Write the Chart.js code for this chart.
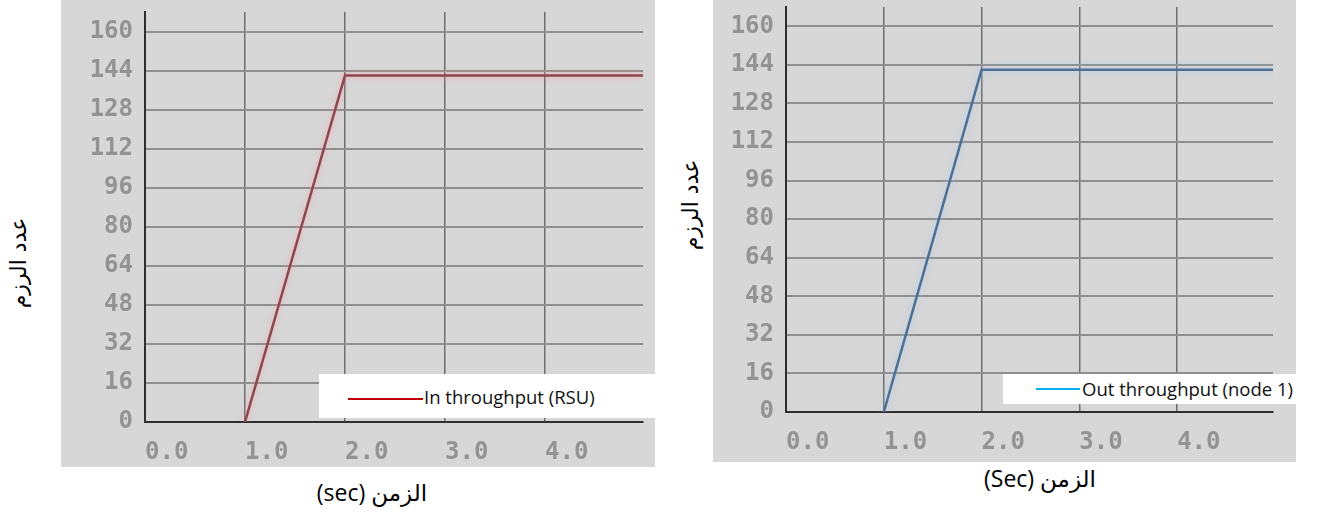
<!DOCTYPE html>
<html>
<head>
<meta charset="utf-8">
<script src="https://cdn.jsdelivr.net/npm/chart.js@4.4.0/dist/chart.umd.min.js"></script>
<style>
    body { margin: 0; width: 1321px; height: 515px; background: #fff; position: relative; overflow: hidden; }
    .panel { position: absolute; background: #d7d7d7; }
    .legend { position: absolute; background: #fff; font-family: "Open Sans", sans-serif; font-size: 18.5px; line-height: 25px; color: #111; white-space: nowrap; }
    .legend .swatch { position: absolute; height: 0; }
    .legend .label { position: absolute; }
    .xtitle { position: absolute; font-family: "Open Sans", "DejaVu Sans", sans-serif; font-size: 23px; color: #000; white-space: nowrap; transform: translateX(-50%); }
    .ytitle { position: absolute; font-family: "DejaVu Sans", sans-serif; font-size: 22px; color: #000; white-space: nowrap; transform: translate(-50%, -50%) rotate(-90deg); }
</style>
</head>
<body>

<div class="panel" style="left:61px; top:0; width:594px; height:467px;"><canvas id="inChart"></canvas></div>
<div class="panel" style="left:713px; top:0; width:583px; height:462px;"><canvas id="outChart"></canvas></div>

<div class="legend" style="left:319px; top:374px; width:336px; height:44px;">
    <div class="swatch" style="left:29px; top:24px; width:75px; border-top:2px solid #c00000;"></div>
    <div class="label" style="left:105px; top:10px;">In throughput (RSU)</div>
</div>
<div class="legend" style="left:1003px; top:374px; width:293px; height:30px;">
    <div class="swatch" style="left:33px; top:14px; width:44px; border-top:2px solid #00b0f0;"></div>
    <div class="label" style="left:79px; top:2px;">Out throughput (node 1)</div>
</div>

<div class="ytitle" style="left:18px; top:263px;" dir="rtl">عدد الرزم</div>
<div class="ytitle" style="left:690px; top:205px;" dir="rtl">عدد الرزم</div>
<div class="xtitle" style="left:372px; top:476px;" dir="rtl">الزمن (sec)</div>
<div class="xtitle" style="left:1040px; top:462px;" dir="rtl">الزمن (Sec)</div>

<script>
// values
const timeSec = [1.0, 2.0, 5.0];
const inThroughputRsu = [0, 142, 142];
const outThroughputNode1 = [0, 142, 142];

const xTickValues = [0, 1, 2, 3, 4];
const yTickValues = [0, 16, 32, 48, 64, 80, 96, 112, 128, 144, 160];

// soft glow round the plotted line, like the blurred screenshot
const haloPlugin = {
    id: 'halo',
    beforeDatasetDraw(chart, args, opts) {
        chart.ctx.save();
        chart.ctx.shadowColor = opts.color;
        chart.ctx.shadowBlur = opts.blur;
    },
    afterDatasetDraw(chart) {
        chart.ctx.restore();
    }
};

function buildChart(canvasId, values, cfg) {
    const points = timeSec.map((t, i) => ({ x: t, y: values[i] }));
    const tickFont = { family: 'DejaVu Sans Mono', size: 24, weight: 'bold' };

    return new Chart(document.getElementById(canvasId), {
        type: 'line',
        data: {
            datasets: [{
                data: points,
                borderColor: cfg.lineColor,
                borderWidth: 2.5,
                pointRadius: 0,
                tension: 0,
                fill: false
            }]
        },
        options: {
            responsive: true,
            maintainAspectRatio: false,
            animation: false,
            events: [],
            layout: { padding: { top: cfg.padTop, right: cfg.padRight, left: 0, bottom: 0 } },
            plugins: {
                legend: { display: false },
                tooltip: { enabled: false },
                halo: { color: cfg.haloColor, blur: cfg.haloBlur }
            },
            scales: {
                x: {
                    type: 'linear',
                    min: 0,
                    max: 4.98,
                    afterBuildTicks: s => { s.ticks = xTickValues.map(v => ({ value: v })); },
                    afterFit: s => {
                        s.height = cfg.xAxisHeight;
                        s.paddingLeft = 0;
                        s.paddingRight = 0;
                    },
                    ticks: {
                        align: 'start',
                        padding: 16,
                        color: '#939393',
                        font: tickFont,
                        maxRotation: 0,
                        callback: v => Number(v).toFixed(1)
                    },
                    grid: { color: '#6e6e6e', lineWidth: 1.5, drawTicks: false },
                    border: { color: '#2e2e2e', width: 2 }
                },
                y: {
                    type: 'linear',
                    min: 0,
                    max: 168,
                    afterBuildTicks: s => { s.ticks = yTickValues.map(v => ({ value: v })); },
                    afterFit: s => {
                        s.width = cfg.yAxisWidth;
                        s.paddingTop = 0;
                        s.paddingBottom = 0;
                    },
                    ticks: {
                        padding: 12,
                        color: '#939393',
                        font: tickFont
                    },
                    grid: { color: '#8e8e8e', lineWidth: 2, drawTicks: false },
                    border: { color: '#2e2e2e', width: 2 }
                }
            }
        },
        plugins: [haloPlugin]
    });
}

buildChart('inChart', inThroughputRsu, {
    lineColor: '#8c4650',
    haloColor: 'rgba(255,140,150,0.7)',
    haloBlur: 6,
    padTop: 12,
    padRight: 12,
    yAxisWidth: 84,
    xAxisHeight: 45
});

buildChart('outChart', outThroughputNode1, {
    lineColor: '#4d6e96',
    haloColor: 'rgba(160,195,230,0.9)',
    haloBlur: 8,
    padTop: 7,
    padRight: 23,
    yAxisWidth: 73,
    xAxisHeight: 50
});
</script>
</body>
</html>
